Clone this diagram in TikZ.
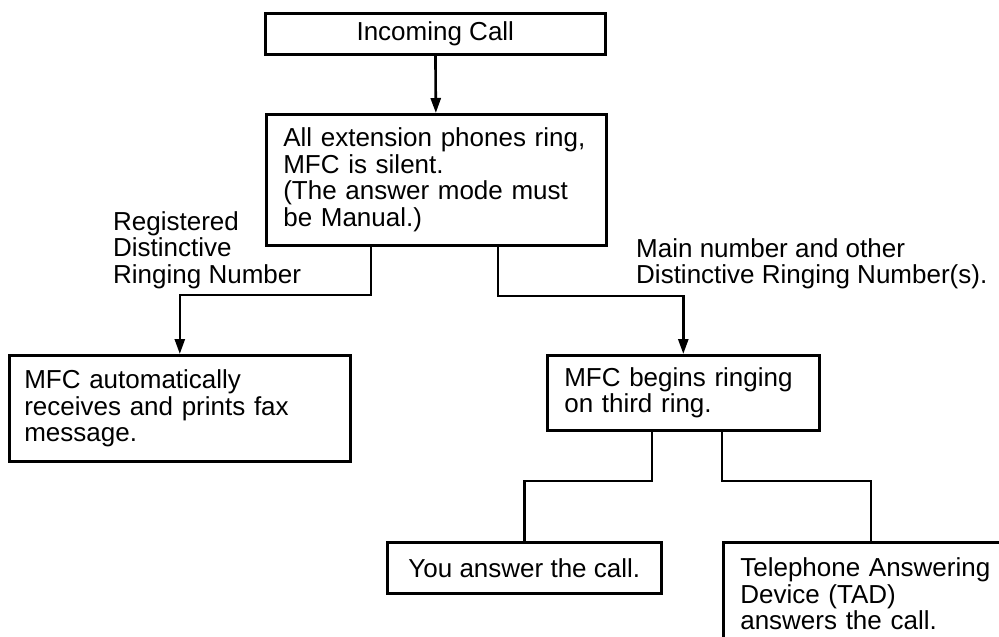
\documentclass[tikz,border=0pt]{standalone}
\usepackage{fontspec}
\setmainfont{Liberation Sans}
\usetikzlibrary{arrows.meta}

\begin{document}
\begin{tikzpicture}[x=1pt,y=-1pt,
  font=\fontsize{26}{26.5}\selectfont,
  box/.style={draw,line width=2.6pt,anchor=north west},
  txtbox/.style={box,align=left,inner xsep=17pt},
  lbl/.style={anchor=north west,inner sep=0pt,align=left},
  link/.style={line width=2.6pt},
  arr/.style={link,-{Triangle[length=15pt,width=10pt]}}]
  \useasboundingbox (0,0) rectangle (999,637);
  \clip (0,0) rectangle (999,637);

  % incoming call
  \node[box,minimum width=340pt,minimum height=41pt] (call) at (264,12) {Incoming Call};
  \node[txtbox,text width=306pt,minimum height=131pt] (ring) at (265,113)
    {All extension phones ring,\\MFC is silent.\\(The answer mode must\\be Manual.)};
  \draw[arr] (call) -- (ring);

  % distinctive ringing split
  \coordinate (lsplit) at (371,295);
  \coordinate (rsplit) at (498,296);
  \node[txtbox,inner xsep=15pt,text width=311pt,minimum height=106pt] (fax) at (8,354)
    {MFC automatically\\receives and prints fax\\message.};
  \node[txtbox,text width=238pt,minimum height=75pt] (third) at (546,354)
    {MFC begins ringing\\on third ring.};
  \draw[arr] (ring.south -| lsplit) -- (lsplit) -| (fax.north);
  \draw[arr] (ring.south -| rsplit) -- (rsplit) -| (third.north);
  \node[lbl] (reglbl) at (113,211) {Registered\\Distinctive\\Ringing Number};
  \node[lbl] (mainlbl) at (636,238) {Main number and other\\Distinctive Ringing Number(s).};

  % who answers
  \coordinate (ysplit) at (652,481);
  \coordinate (tsplit) at (722,481);
  \node[box,minimum width=274pt,minimum height=51pt] (you) at (386,541) {You answer the call.};
  \node[txtbox,text width=261pt,minimum height=103pt] (tad) at (722,541)
    {Telephone Answering\\Device (TAD)\\answers the call.};
  \draw[link] (third.south -| ysplit) -- (ysplit) -| (you.north);
  \draw[link] (third.south -| tsplit) -- (tsplit) -| (tad.north);
\end{tikzpicture}
\end{document}
